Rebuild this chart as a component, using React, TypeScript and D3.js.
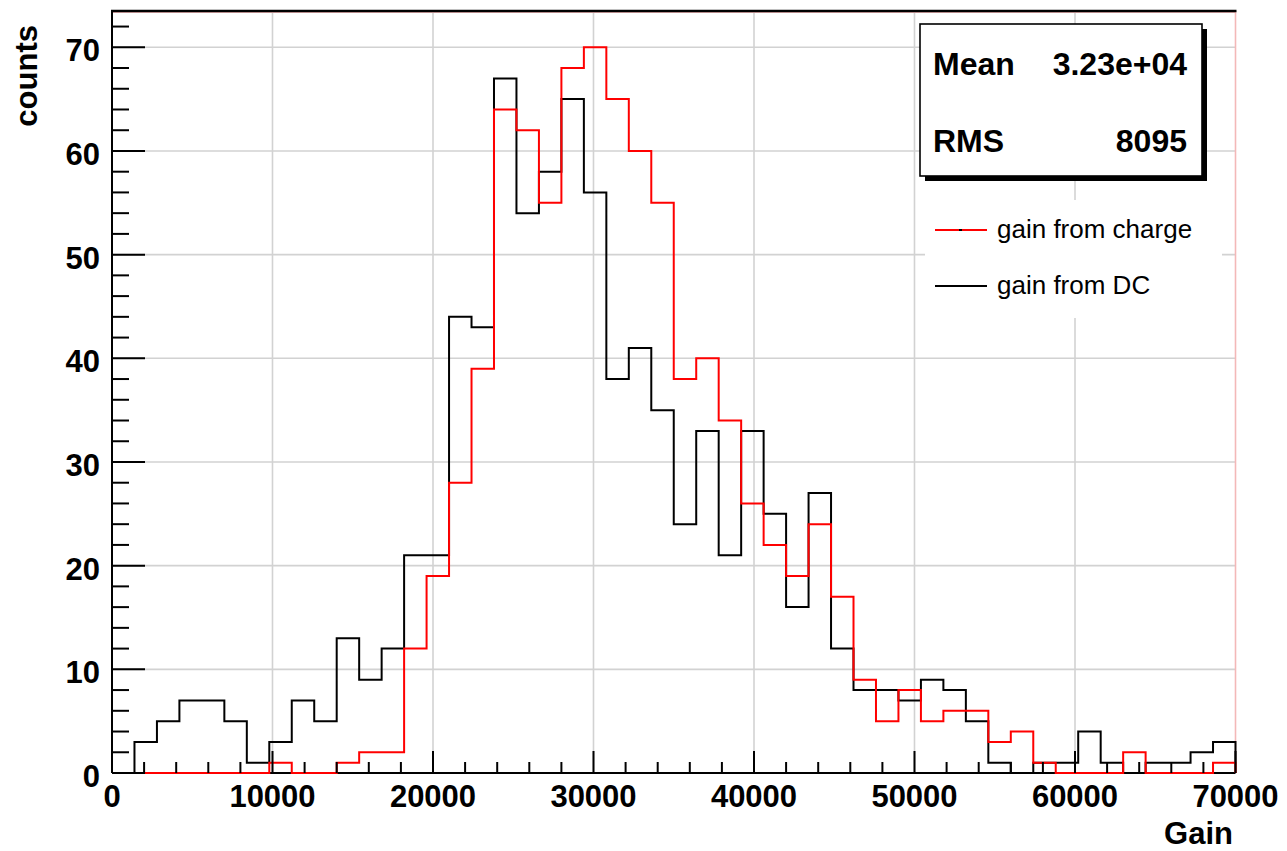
import React from 'react';
import * as d3 from 'd3';

const xDomain: [number, number] = [0, 70000];
const yDomain: [number, number] = [0, 73.5];
const nBins = 50;
const gainFromDC = [0,3,5,7,7,5,1,3,7,5,13,9,12,21,21,44,43,67,54,58,65,56,38,41,35,24,33,21,33,25,16,27,12,8,8,7,9,8,5,1,0,1,1,4,1,0,1,1,2,3];
const gainFromCharge = [0,0,0,0,0,0,0,1,0,0,1,2,2,12,19,28,39,64,62,55,68,70,65,60,55,38,40,34,26,22,19,24,17,9,5,8,5,6,6,3,4,1,0,0,0,2,0,0,0,1];
const xMajorTicks = [0, 10000, 20000, 30000, 40000, 50000, 60000, 70000];
const xTickLabels = ['0', '10000', '20000', '30000', '40000', '50000', '60000', '70000'];
const yMajorTicks = [0, 10, 20, 30, 40, 50, 60, 70];
const yTickLabels = ['0', '10', '20', '30', '40', '50', '60', '70'];
const statsLabels = ['Mean', 'RMS'];
const statsValues = ['3.23e+04', '8095'];
const legendLabels = ['gain from charge', 'gain from DC'];
const legendColors = ['#ff0000', '#000000'];

const L = 112, R = 1235.5, T = 11, B = 773;
const FONT = '"Liberation Sans", Arial, Helvetica, sans-serif';

export default function App() {
  const x = d3.scaleLinear().domain(xDomain).range([L, R]);
  const y = d3.scaleLinear().domain(yDomain).range([B, T]);
  const bw = (xDomain[1] - xDomain[0]) / nBins;

  const stepPath = (vals: number[]) => {
    const pts: [number, number][] = [[xDomain[0], 0]];
    vals.forEach((v, i) => pts.push([xDomain[0] + i * bw, v]));
    pts.push([xDomain[1], vals[vals.length - 1]]);
    pts.push([xDomain[1], 0]);
    return d3.line<[number, number]>().x(d => x(d[0])).y(d => y(d[1])).curve(d3.curveStepAfter)(pts) || '';
  };

  const xMinor = d3.range(0, 70001, 2000);
  const yMinor = d3.range(0, 73, 2);

  return (
    <svg width={1287} height={851} style={{ position: 'absolute', left: 0, top: 0, background: '#fff' }}>
      <rect x={0} y={0} width={1287} height={851} fill="#fff" />
      {/* grid */}
      {xMajorTicks.slice(1, -1).map(t => (
        <line key={'gx' + t} x1={x(t)} x2={x(t)} y1={T} y2={B} stroke="#d2d2d2" strokeWidth={1.6} />
      ))}
      {yMajorTicks.slice(1).map(t => (
        <line key={'gy' + t} x1={L} x2={R} y1={y(t)} y2={y(t)} stroke="#d2d2d2" strokeWidth={1.6} />
      ))}
      {/* legend background */}
      <rect x={925} y={200} width={297} height={118} fill="#fff" />
      {/* frame */}
      <line x1={R} x2={R} y1={T} y2={B} stroke="#f3b8b8" strokeWidth={1.6} />
      <line x1={L} x2={R} y1={T + 1.5} y2={T + 1.5} stroke="#f3b8b8" strokeWidth={1} />
      <line x1={L - 1} x2={R + 1} y1={T} y2={T} stroke="#000" strokeWidth={2.6} />
      <line x1={L} x2={L} y1={T} y2={B} stroke="#000" strokeWidth={2} />
      <line x1={L} x2={R} y1={B} y2={B} stroke="#000" strokeWidth={2} />
      {/* histograms */}
      <path d={stepPath(gainFromDC)} fill="none" stroke="#000" strokeWidth={2} />
      <path d={stepPath(gainFromCharge)} fill="none" stroke="#ff0000" strokeWidth={2} />
      {/* x ticks */}
      {xMinor.map(t => (
        <line key={'xt' + t} x1={x(t)} x2={x(t)} y1={B} y2={B - (t % 10000 === 0 ? 22 : 11)} stroke="#000" strokeWidth={2} />
      ))}
      {/* y ticks */}
      {yMinor.map(t => (
        <line key={'yt' + t} x1={L} x2={L + (t % 10 === 0 ? 33 : 17)} y1={y(t)} y2={y(t)} stroke="#000" strokeWidth={2} />
      ))}
      {/* x labels */}
      {xMajorTicks.map((t, i) => (
        <text key={'xl' + t} x={x(t)} y={807} textAnchor="middle" fontFamily={FONT} fontWeight="bold" fontSize={31} fill="#000">{xTickLabels[i]}</text>
      ))}
      {/* y labels */}
      {yMajorTicks.map((t, i) => (
        <text key={'yl' + t} x={100} y={y(t) + 14} textAnchor="end" fontFamily={FONT} fontWeight="bold" fontSize={31} fill="#000">{yTickLabels[i]}</text>
      ))}
      {/* axis titles */}
      <text x={1233} y={844} textAnchor="end" fontFamily={FONT} fontWeight="bold" fontSize={31} fill="#000">Gain</text>
      <text transform="translate(37,25) rotate(-90)" textAnchor="end" fontFamily={FONT} fontWeight="bold" fontSize={31} fill="#000">counts</text>
      {/* stats box */}
      <rect x={925} y={29} width={282} height={152} fill="#000" />
      <rect x={920} y={24} width={282} height={152} fill="#fff" stroke="#000" strokeWidth={1.6} />
      {statsLabels.map((s, i) => (
        <g key={s}>
          <text x={933} y={75 + i * 77} fontFamily={FONT} fontWeight="bold" fontSize={32} fill="#000">{s}</text>
          <text x={1187} y={75 + i * 77} textAnchor="end" fontFamily={FONT} fontWeight="bold" fontSize={32} fill="#000">{statsValues[i]}</text>
        </g>
      ))}
      {/* legend */}
      {legendLabels.map((s, i) => (
        <g key={s}>
          <line x1={935} x2={987} y1={230 + i * 56} y2={230 + i * 56} stroke={legendColors[i]} strokeWidth={2} />
          {i === 0 && <rect x={959} y={229} width={3} height={2} fill="#000" />}
          <text x={997} y={238 + i * 56} fontFamily={FONT} fontSize={26} fill="#000">{s}</text>
        </g>
      ))}
    </svg>
  );
}
